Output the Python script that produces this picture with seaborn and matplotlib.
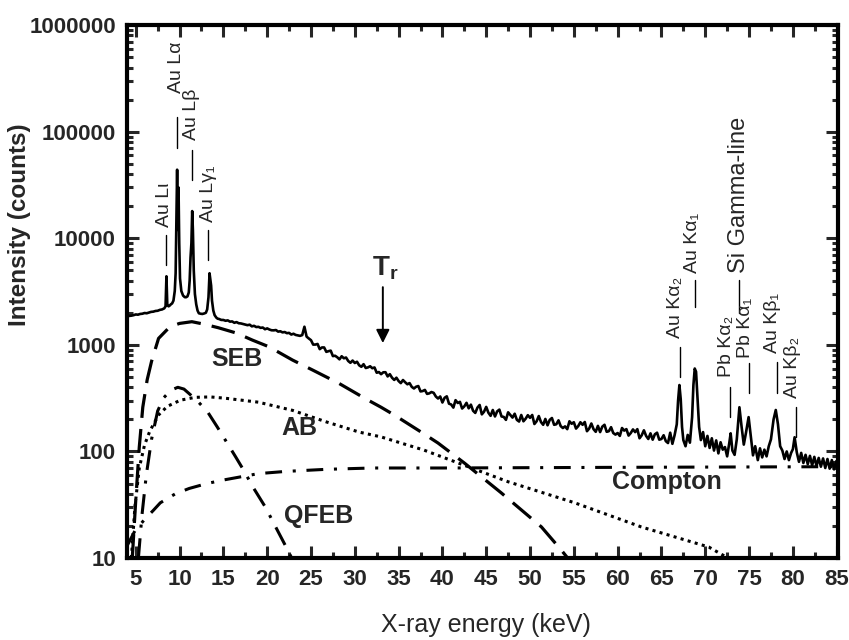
import numpy as np
import matplotlib
matplotlib.use('Agg')
import matplotlib.pyplot as plt
from matplotlib.ticker import LogLocator, NullFormatter, MultipleLocator
import seaborn as sns

# ---- measured spectrum (keV, counts) ----
spec_kev = [
    4.0, 4.25, 4.5, 4.75, 5.0, 5.25, 5.5, 5.75, 6.0, 6.25, 6.5, 6.75, 7.0, 7.25, 7.5, 7.75, 8.0, 8.25,
    8.4, 8.5, 8.6, 8.75, 8.9, 9.0, 9.15, 9.3, 9.45, 9.55, 9.65, 9.72, 9.8, 9.88, 9.96, 10.05,
    10.2, 10.4, 10.6, 10.75, 10.9, 11.05, 11.15, 11.25, 11.35, 11.44, 11.52, 11.62, 11.75, 11.9,
    12.05, 12.2, 12.4, 12.6, 12.8, 13.0, 13.15, 13.3, 13.42, 13.5, 13.6, 13.7, 13.85, 14.0, 14.2, 14.35,
    14.5, 14.75, 15.0, 15.25, 15.5, 15.75, 16.0, 16.25, 16.5, 16.75, 17.0, 17.25, 17.5, 17.75,
    18.0, 18.25, 18.5, 18.75, 19.0, 19.25, 19.5, 19.75, 20.0, 20.25, 20.5, 20.75, 21.0, 21.25, 21.5, 21.75,
    22.0, 22.25, 22.5, 22.75, 23.0, 23.25, 23.5, 23.75, 24.0, 24.25, 24.5, 24.75, 25.0, 25.25, 25.5, 25.75,
    26.0, 26.25, 26.5, 26.75, 27.0, 27.25, 27.5, 27.75, 28.0, 28.25, 28.5, 28.75, 29.0, 29.25, 29.5, 29.75,
    30.0, 30.25, 30.5, 30.75, 31.0, 31.25, 31.5, 31.75, 32.0, 32.25, 32.5, 32.75, 33.0, 33.25, 33.5, 33.75,
    34.0, 34.25, 34.5, 34.75, 35.0, 35.25, 35.5, 35.75, 36.0, 36.25, 36.5, 36.75, 37.0, 37.25, 37.5, 37.75,
    38.0, 38.25, 38.5, 38.75, 39.0, 39.25, 39.5, 39.75, 40.0, 40.25, 40.5, 40.75, 41.0, 41.25, 41.5, 41.75,
    42.0, 42.25, 42.5, 42.75, 43.0, 43.25, 43.5, 43.75, 44.0, 44.25, 44.5, 44.75, 45.0, 45.25, 45.5, 45.75,
    46.0, 46.25, 46.5, 46.75, 47.0, 47.25, 47.5, 47.75, 48.0, 48.25, 48.5, 48.75, 49.0, 49.25, 49.5, 49.75,
    50.0, 50.25, 50.5, 50.75, 51.0, 51.25, 51.5, 51.75, 52.0, 52.25, 52.5, 52.75, 53.0, 53.25, 53.5, 53.75,
    54.0, 54.25, 54.5, 54.75, 55.0, 55.25, 55.5, 55.75, 56.0, 56.25, 56.5, 56.75, 57.0, 57.25, 57.5, 57.75,
    58.0, 58.25, 58.5, 58.75, 59.0, 59.25, 59.5, 59.75, 60.0, 60.25, 60.5, 60.75, 61.0, 61.25, 61.5, 61.75,
    62.0, 62.25, 62.5, 62.75, 63.0, 63.25, 63.5, 63.75, 64.0, 64.25, 64.5, 64.75, 65.0, 65.25, 65.5, 65.75,
    66.0, 66.25, 66.5, 66.75, 66.9, 67.05, 67.2, 67.35, 67.5, 67.75, 68.0, 68.25, 68.5, 68.65, 68.8, 68.95,
    69.1, 69.3, 69.5, 69.75, 70.0, 70.25, 70.5, 70.75, 71.0, 71.25, 71.5, 71.75, 72.0, 72.25, 72.5, 72.75,
    72.9, 73.1, 73.35, 73.6, 73.9, 74.15, 74.4, 74.65, 74.95, 75.2, 75.45, 75.7, 76.0, 76.25, 76.5, 76.75,
    77.0, 77.25, 77.5, 77.8, 78.05, 78.3, 78.55, 78.8, 79.05, 79.3, 79.55, 79.8, 80.0, 80.2, 80.45, 80.7,
    80.95, 81.2, 81.45, 81.7, 81.95, 82.2, 82.45, 82.7, 82.95, 83.2, 83.45, 83.7, 83.95, 84.2, 84.45, 84.7,
    84.95, 85.1,
]
spec_counts = [
    1850, 1870, 1880, 1900, 1930, 1920, 1950, 1960, 1990, 1980, 2010, 2040, 2050, 2080, 2090, 2130, 2150, 2200,
    2300, 4400, 2350, 2300, 2350, 2400, 2450, 2600, 3200, 4700, 16000, 44000, 12000, 30000, 9000, 4200,
    3200, 2900, 2800, 2800, 2850, 3100, 4000, 6600, 9000, 18000, 12000, 5000, 3000, 2400,
    2100, 1980, 1960, 1950, 1970, 2000, 2150, 2800, 4700, 4200, 3600, 2600, 2100, 1900, 1800, 1760,
    1750, 1715, 1712, 1684, 1698, 1652, 1660, 1612, 1636, 1596, 1589, 1570, 1548, 1531,
    1547, 1492, 1510, 1470, 1477, 1445, 1455, 1402, 1428, 1394, 1371, 1369, 1378, 1331, 1342, 1310,
    1320, 1288, 1296, 1250, 1272, 1240, 1226, 1215, 1236, 1480, 1195, 1148, 1107, 1006, 1007, 1020,
    912, 946, 946, 860, 873, 883, 785, 791, 765, 732, 782, 749, 761, 706, 679, 713,
    676, 695, 643, 623, 659, 607, 615, 630, 604, 614, 548, 556, 531, 553, 554, 506,
    531, 492, 469, 492, 458, 438, 468, 446, 427, 438, 404, 390, 405, 411, 366, 369,
    378, 347, 351, 361, 355, 328, 314, 328, 288, 319, 329, 281, 276, 258, 303, 285,
    292, 253, 265, 286, 254, 275, 241, 230, 258, 273, 223, 236, 262, 231, 216, 245,
    213, 238, 247, 213, 211, 198, 233, 220, 208, 226, 198, 191, 220, 192, 203, 219,
    207, 220, 181, 192, 215, 189, 178, 202, 176, 198, 206, 178, 180, 196, 173, 166,
    172, 162, 192, 182, 188, 164, 173, 188, 178, 189, 155, 164, 183, 162, 153, 174,
    152, 171, 178, 153, 155, 169, 149, 144, 149, 140, 166, 157, 162, 141, 149, 161,
    152, 162, 133, 142, 158, 140, 131, 148, 129, 145, 150, 129, 131, 142, 125, 120,
    150, 118, 142, 180, 300, 420, 310, 170, 128, 112, 143, 121, 210, 420, 600, 560,
    330, 170, 128, 152, 112, 140, 108, 133, 102, 127, 96, 122, 104, 110, 90, 121,
    148, 102, 93, 130, 260, 170, 116, 150, 210, 140, 92, 112, 83, 107, 88, 104,
    90, 112, 130, 200, 245, 180, 112, 102, 85, 100, 83, 97, 105, 136, 98, 80,
    97, 78, 93, 76, 91, 74, 89, 73, 87, 72, 86, 70, 85, 69, 83, 68,
    81, 74,
]

# ---- fitted background components ----
seb_kev = [4.6, 5.0, 5.4, 5.8, 6.3, 6.8, 7.6, 8.9, 10.0, 11.4, 12.7, 14.4, 16.5, 18.3, 20.2,
           22.9, 25.2, 28.2, 31.3, 33.0, 34.5, 37.8, 39.5, 42.5, 46.7, 51.3, 53.6, 54.3]
seb_counts = [10, 35, 110, 260, 470, 700, 1150, 1480, 1590, 1650, 1570, 1450, 1290, 1110, 960,
              720, 580, 435, 310, 260, 220, 148, 120, 78, 41, 19.6, 11.8, 10]

ab_kev = [4.5, 4.9, 5.4, 6.0, 6.6, 7.6, 8.6, 10.1, 11.8, 13.5, 15.2, 19.0, 22.9, 26.7, 30.5,
          33.0, 37.9, 41.8, 47.5, 55.1, 62.7, 70.4, 72.6]
ab_counts = [10, 30, 70, 115, 155, 220, 265, 303, 322, 325, 316, 290, 243, 190, 152,
             137, 103, 78, 52, 33, 19.6, 12.7, 10]

qfeb_kev = [5.3, 5.7, 6.2, 6.8, 7.5, 8.2, 9.0, 9.8, 10.5, 12.0, 13.2, 14.3, 16.4, 17.3, 18.4,
            19.8, 21.2, 22.1, 22.8]
qfeb_counts = [10, 25, 60, 130, 240, 320, 375, 400, 385, 300, 235, 170, 89, 67, 46,
               30, 18, 13, 10]

compton_kev = [4.0, 4.9, 6.0, 7.0, 7.8, 9.5, 11.1, 13.1, 15.0, 19.0, 22.1, 26.7, 32.0, 40.0, 60.0, 85.1]
compton_counts = [13, 18, 23, 28, 33, 40, 45, 50, 54, 62, 65, 68, 70, 70, 71, 72]

# ---- line identifications ----
peak_names = ['Au L\u03b9', 'Au L\u03b1', 'Au L\u03b2', 'Au L\u03b3\u2081',
              'Au K\u03b1\u2082', 'Au K\u03b1\u2081', 'Pb K\u03b1\u2082', 'Si Gamma-line',
              'Pb K\u03b1\u2081', 'Au K\u03b2\u2081', 'Au K\u03b2\u2082']
peak_kev = [8.49, 9.75, 11.46, 13.3, 67.07, 68.8, 72.8, 73.9, 74.97, 78.17, 80.34]
# marker line (low, high) in counts
peak_line_lo = [5600, 70000, 35000, 6240, 500, 2260, 210, 1990, 353, 353, 136]
peak_line_hi = [10700, 137000, 68000, 11900, 955, 4080, 400, 4080, 677, 688, 261]

component_names = ['SEB', 'AB', 'QFEB', 'Compton']

# ---------------------------------------------------------------
sns.set_style('ticks')
plt.rcParams['font.family'] = ['Liberation Sans', 'DejaVu Sans']
plt.rcParams['mathtext.fontset'] = 'custom'
plt.rcParams['mathtext.rm'] = 'Liberation Sans'
plt.rcParams['mathtext.bf'] = 'Liberation Sans:bold'

fig = plt.figure(figsize=(8.49, 6.4), dpi=100)
ax = fig.add_axes([0.1496, 0.128, 0.8369, 0.8328])
ax.set_yscale('log')

# spectrum
sns.lineplot(x=spec_kev, y=spec_counts, ax=ax, color='black', lw=1.9,
             estimator=None, sort=False)

# components
sns.lineplot(x=seb_kev, y=seb_counts, ax=ax, color='black', lw=2.3,
             linestyle=(0, (7.5, 3.5)), estimator=None, sort=False)
sns.lineplot(x=ab_kev, y=ab_counts, ax=ax, color='black', lw=2.2,
             linestyle=(0, (1.0, 1.4)), estimator=None, sort=False)
sns.lineplot(x=qfeb_kev, y=qfeb_counts, ax=ax, color='black', lw=2.2,
             linestyle=(0, (6.5, 3.5, 1.0, 3.5)), estimator=None, sort=False)
sns.lineplot(x=compton_kev, y=compton_counts, ax=ax, color='black', lw=2.2,
             linestyle=(0, (5.5, 3.5, 1.0, 3.5)), estimator=None, sort=False)

# peak labels: (text x, text bottom y, font size)
label_pos = [(8.26, 12700, 14), (9.7, 229000, 14), (11.35, 83000, 14), (13.25, 14100, 14),
             (66.65, 1160, 14), (68.55, 4700, 14), (72.45, 500, 14), (73.9, 4700, 17),
             (74.6, 752, 14), (77.65, 836, 14), (80.0, 317, 14)]
for name, e, lo, hi, (tx, ty, fs) in zip(peak_names, peak_kev, peak_line_lo, peak_line_hi, label_pos):
    ax.plot([e, e], [lo, hi], color='black', lw=1.0)
    ax.text(tx, ty, name, rotation=90, ha='center', va='bottom', fontsize=fs,
            family=['Liberation Sans', 'DejaVu Sans'])

# component labels
comp_pos = [(16.6, 736), (23.7, 166), (25.9, 24.8), (65.6, 51.6)]
for name, (tx, ty) in zip(component_names, comp_pos):
    ax.text(tx, ty, name, ha='center', va='center', fontsize=18, fontweight='bold')

# T_r marker
ax.annotate('', xy=(33.2, 1040), xytext=(33.2, 3480),
            arrowprops=dict(arrowstyle='-|>', color='black', lw=1.4,
                            mutation_scale=20, shrinkA=0, shrinkB=0))
ax.text(33.5, 3900, r'$\mathbf{T_r}$', ha='center', va='bottom', fontsize=20)

# axes
ax.set_xlim(4.0, 85.1)
ax.set_ylim(10, 1e6)
ax.set_xticks(range(5, 86, 5))
ax.xaxis.set_minor_locator(MultipleLocator(2.5))
ax.set_xticklabels([str(v) for v in range(5, 86, 5)], fontweight='bold', fontsize=16)
yt = [10, 100, 1000, 10000, 100000, 1000000]
ax.set_yticks(yt)
ax.set_yticklabels([str(v) for v in yt], fontweight='bold', fontsize=16)
ax.yaxis.set_minor_locator(LogLocator(base=10, subs=range(2, 10), numticks=20))
ax.yaxis.set_minor_formatter(NullFormatter())
ax.tick_params(which='major', direction='in', length=8.5, width=2.2,
               top=True, right=True, pad=8)
ax.tick_params(which='minor', direction='in', length=4.5, width=2.2,
               top=True, right=True)
for sp in ax.spines.values():
    sp.set_linewidth(3)
    sp.set_color('black')

fig.text(20 / 849, 1 - 225 / 640, 'Intensity (counts)', rotation=90, ha='center',
         va='center', fontsize=17.5, fontweight='bold')
fig.text(486 / 849, 1 - 625 / 640, 'X-ray energy (keV)', ha='center', va='center',
         fontsize=18)

fig.savefig('out.png', dpi=100, facecolor='white')
